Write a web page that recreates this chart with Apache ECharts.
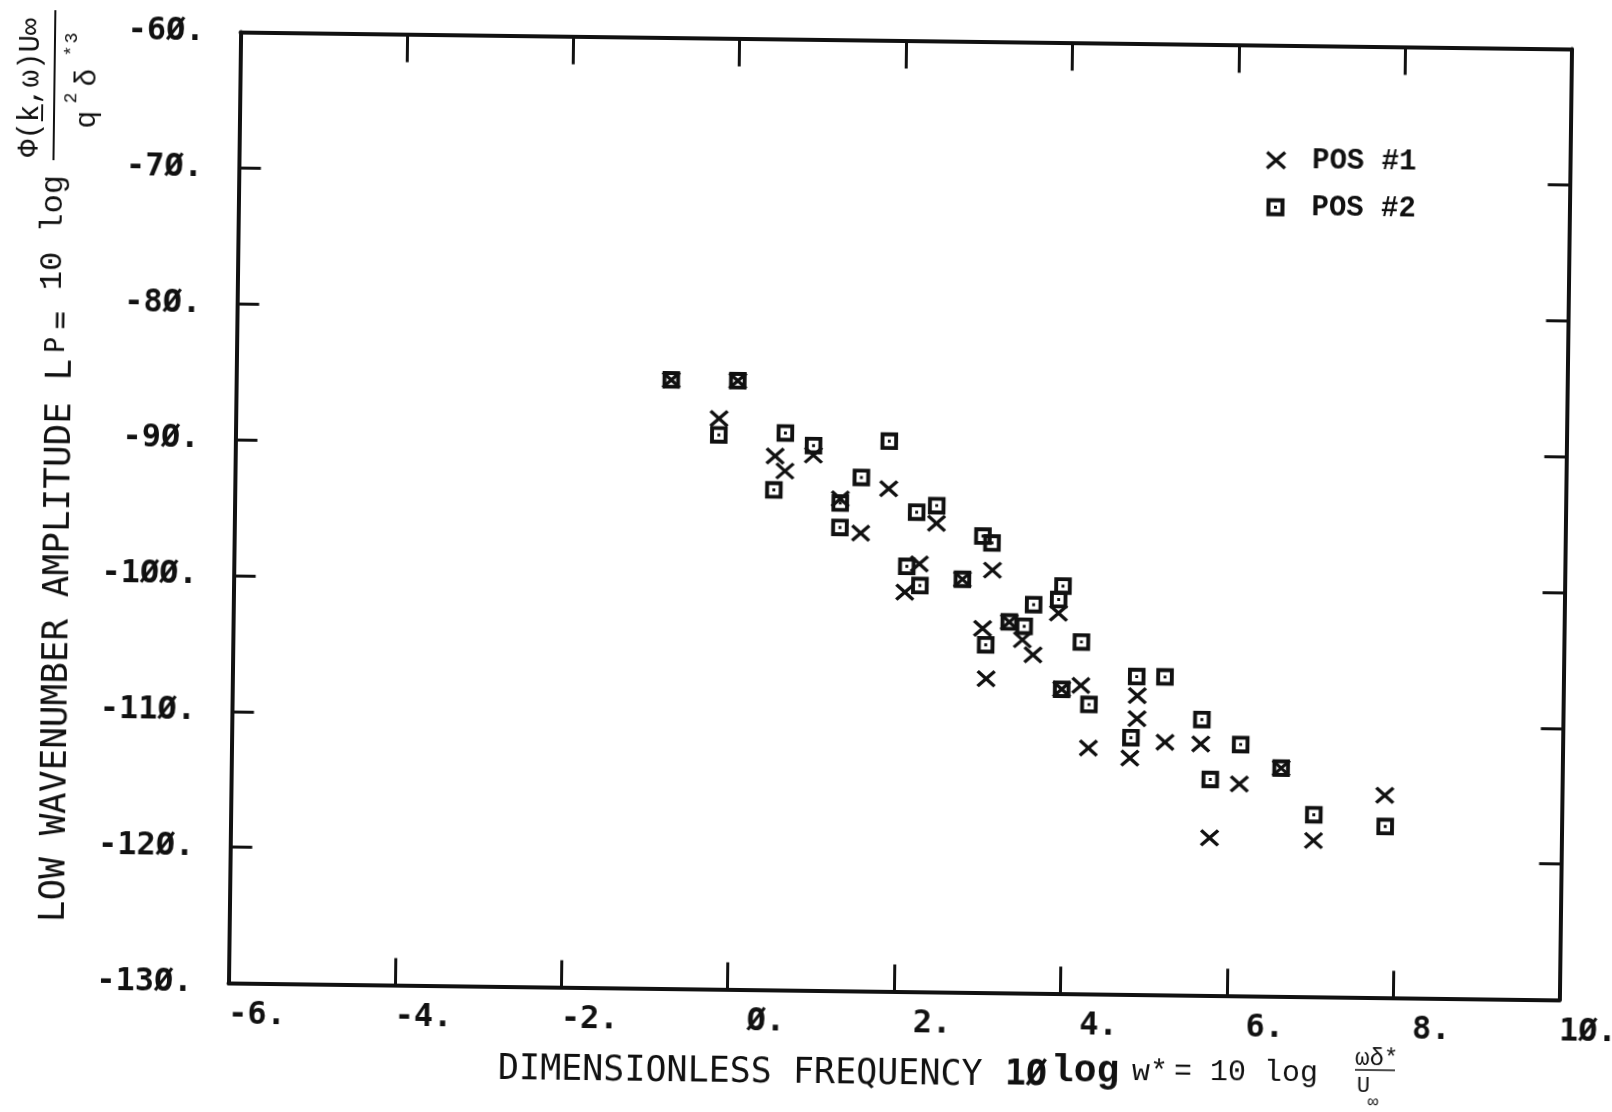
<!DOCTYPE html>
<html>
<head>
<meta charset="utf-8">
<script src="https://cdn.jsdelivr.net/npm/echarts@6/dist/echarts.min.js"></script>
<style>
  html, body { margin: 0; padding: 0; background: #fff; overflow: hidden; width: 1612px; height: 1112px; }
  /* the plot sheet sits slightly askew; the canvas is a little larger than the page so nothing is cut before turning */
  #chart { width: 1700px; height: 1200px; transform: rotate(0.73deg); transform-origin: 900px 516px; }
</style>
</head>
<body>
<div id="chart"></div>
<script>
// Low wavenumber amplitude against dimensionless frequency, two transducer positions.
const pos1Freq  = [-0.77, 0.03, -0.19, 0.49, 0.61, 0.95, 1.86, 1.28, 1.53, 2.44, 2.24, 2.07, 2.76, 3.12, 3.01,
                   3.06, 3.33, 3.49, 3.62, 3.92, 3.97, 4.20, 4.30, 4.88, 4.88, 4.80, 5.22, 5.65, 6.12, 6.62,
                   5.77, 7.02, 7.87];
const pos1Level = [-85.2, -85.2, -88.0, -90.7, -91.8, -90.6, -93.0, -93.8, -96.3, -95.5, -98.5, -100.6, -99.6, -98.9, -103.2,
                   -106.9, -102.7, -104.0, -105.1, -102.0, -107.6, -107.3, -111.9, -108.0, -109.7, -112.6, -111.4, -111.5, -114.4, -113.2,
                   -118.4, -118.5, -115.1];

const pos2Freq  = [-0.77, 0.03, -0.19, 0.61, 0.48, 0.95, 1.86, 1.53, 1.28, 1.28, 2.20, 2.44, 2.09, 2.25, 2.76,
                   3.00, 3.11, 3.05, 3.33, 3.51, 3.62, 3.97, 3.92, 4.20, 3.97, 4.30, 4.87, 5.21, 4.81, 5.66,
                   6.13, 5.77, 6.62, 7.02, 7.88];
const pos2Level = [-85.2, -85.2, -89.2, -89.0, -93.2, -89.9, -89.5, -92.2, -94.1, -95.9, -94.7, -94.2, -98.7, -100.1, -99.6,
                   -96.4, -96.9, -104.4, -102.7, -103.0, -101.4, -100.0, -101.0, -104.1, -107.6, -108.7, -106.6, -106.6, -111.1, -109.7,
                   -111.5, -114.1, -113.2, -116.6, -117.4];

const seriesNames = ['POS #1', 'POS #2'];
const freqRange = [-6, 10];
const freqStep = 2;
const levelRange = [-130, -60];
const levelStep = 10;

const INK = '#111';
const PLOTTER = '"DejaVu Sans Mono", monospace';
const TYPED = '"Liberation Mono", "DejaVu Sans Mono", monospace';

// plotter style numbers: slashed zero and trailing point
function slashZero(v) { return String(v).replace(/0/g, '\u00D8'); }

const CROSS = 'path://M0,0L17,15M17,0L0,15';
const BOX = 'path://M0,0H18V18H0ZM4,4V14H14V4ZM7.5,7.5H10.5V10.5H7.5Z';
const crossStyle = { color: 'none', borderColor: INK, borderWidth: 3.3, opacity: 1 };
const boxStyle = { color: INK, borderWidth: 0, opacity: 1 };

function zip(xs, ys) { return xs.map((x, i) => [x, ys[i]]); }

function hText(x, y, text, font) {
  return { type: 'text', x: x, y: y, silent: true,
    style: { text: text, font: font, fill: INK, align: 'left', verticalAlign: 'middle' } };
}
function vText(x, y, text, font) {
  return { type: 'text', x: x, y: y, rotation: Math.PI / 2, silent: true,
    style: { text: text, font: font, fill: INK, align: 'left', verticalAlign: 'middle' } };
}
function rule(x1, y1, x2, y2, w) {
  return { type: 'line', silent: true, shape: { x1: x1, y1: y1, x2: x2, y2: y2 },
    style: { stroke: INK, lineWidth: w } };
}

const axisLine = { show: true, onZero: false, lineStyle: { color: INK, width: 4 } };

const chart = echarts.init(document.getElementById('chart'), null, { renderer: 'canvas' });

chart.setOption({
  animation: false,
  backgroundColor: '#fff',
  grid: { left: 234.5, top: 40.5, width: 1331, height: 951, containLabel: false, outerBoundsMode: 'none', show: false },
  xAxis: [
    {
      type: 'value', position: 'bottom', min: freqRange[0], max: freqRange[1], interval: freqStep,
      axisLine: axisLine,
      axisTick: { show: true, inside: true, length: 27, lineStyle: { color: INK, width: 3 } },
      axisLabel: {
        show: true, margin: 16, align: 'left', verticalAlign: 'top',
        color: INK, fontFamily: PLOTTER, fontWeight: 'bold', fontSize: 32,
        showMinLabel: true, showMaxLabel: true,
        formatter: v => (slashZero(v) + '.').padStart(3, ' ')
      },
      splitLine: { show: false }
    },
    {
      type: 'value', position: 'top', min: freqRange[0], max: freqRange[1], interval: freqStep,
      axisLine: axisLine,
      axisTick: { show: true, inside: true, length: 28, lineStyle: { color: INK, width: 3 } },
      axisLabel: { show: false },
      splitLine: { show: false }
    }
  ],
  yAxis: [
    {
      type: 'value', position: 'left', min: levelRange[0], max: levelRange[1], interval: levelStep,
      axisLine: axisLine,
      axisTick: { show: true, inside: true, length: 22, lineStyle: { color: INK, width: 3 } },
      axisLabel: {
        show: true, margin: 36, align: 'right', verticalAlign: 'middle', padding: [14, 0, 0, 0],
        color: INK, fontFamily: PLOTTER, fontWeight: 'bold', fontSize: 32,
        showMinLabel: true, showMaxLabel: true,
        formatter: v => slashZero(v) + '.'
      },
      splitLine: { show: false }
    },
    {
      type: 'value', position: 'right', min: levelRange[0], max: levelRange[1], interval: levelStep,
      axisLine: axisLine,
      axisTick: { show: true, inside: true, length: 22, lineStyle: { color: INK, width: 3 } },
      axisLabel: { show: false },
      splitLine: { show: false }
    }
  ],
  legend: {
    orient: 'vertical', left: 1255, top: 136, itemWidth: 18, itemHeight: 18, itemGap: 18,
    selectedMode: false,
    textStyle: { color: INK, fontFamily: TYPED, fontWeight: 'bold', fontSize: 29, lineHeight: 28, padding: [0, 0, 0, 22] },
    data: [
      { name: seriesNames[0], itemStyle: crossStyle },
      { name: seriesNames[1], itemStyle: boxStyle }
    ]
  },
  series: [
    {
      name: seriesNames[1], type: 'scatter', xAxisIndex: 0, yAxisIndex: 0, z: 2,
      symbol: BOX, symbolSize: 17.5, silent: true,
      itemStyle: boxStyle,
      emphasis: { disabled: true },
      data: zip(pos2Freq, pos2Level)
    },
    {
      name: seriesNames[0], type: 'scatter', xAxisIndex: 0, yAxisIndex: 0, z: 3,
      symbol: CROSS, symbolSize: [17, 15], silent: true,
      itemStyle: crossStyle,
      emphasis: { disabled: true },
      data: zip(pos1Freq, pos1Level)
    }
  ],
  graphic: {
    elements: [
      // horizontal axis title
      hText(505, 1075, 'DIMENSIONLESS FREQUENCY', '35px ' + PLOTTER),
      hText(1012, 1074, '1\u00D8', 'bold 35px ' + PLOTTER),
      hText(1058, 1069, 'log', 'bold 38px ' + TYPED),
      hText(1139, 1069, 'w*', '30px ' + TYPED),
      hText(1181, 1068, '= 10 log', '30px ' + TYPED),
      hText(1362, 1053, '\u03C9\u03B4*', '24px ' + TYPED),
      rule(1362, 1064, 1402, 1064, 1.5),
      hText(1364, 1080, 'U', '22px ' + TYPED),
      hText(1375, 1096, '\u221E', '18px ' + TYPED),
      // vertical axis title, read bottom to top
      vText(60, 933, 'LOW WAVENUMBER AMPLITUDE L', '36px ' + PLOTTER),
      vText(55, 364, 'P', '27px ' + PLOTTER),
      vText(59, 340, '=', '30px ' + PLOTTER),
      vText(50, 301, '10 log', '32px ' + TYPED),
      vText(25, 168, '\u03A6(k\u0332,\u03C9)U\u221E', '29px ' + TYPED),
      rule(49, 171, 49, 21, 2),
      vText(82, 139, 'q', '30px ' + TYPED),
      vText(66, 114, '2', '18px ' + TYPED),
      vText(82, 97, '\u03B4', '30px ' + TYPED),
      vText(66, 67, '*', '18px ' + TYPED),
      vText(66, 54, '3', '18px ' + TYPED)
    ]
  }
});
</script>
</body>
</html>
